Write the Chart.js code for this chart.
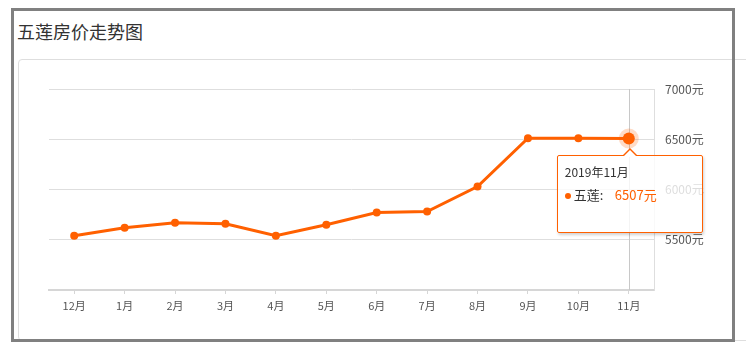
<!DOCTYPE html>
<html>
<head>
<meta charset="utf-8">
<script src="https://cdn.jsdelivr.net/npm/chart.js@4/dist/chart.umd.min.js"></script>
<style>
  html, body { margin: 0; padding: 0; background: #fff; }
  body { width: 746px; height: 354px; position: relative; overflow: hidden;
         font-family: "Microsoft YaHei", "Noto Sans CJK SC", sans-serif; }
  #frame { position: absolute; left: 11px; top: 8px; width: 724px; height: 334px;
           box-sizing: border-box; border: 3px solid #808080; z-index: 5; }
  #title { position: absolute; left: 17px; top: 18px; font-size: 18px; color: #333; line-height: 26px; }
  #card { position: absolute; left: 18px; top: 59px; width: 800px; height: 282px;
          box-sizing: border-box; border: 1px solid #dedede; border-radius: 4px; }
  #wrap { position: absolute; left: 20px; top: 60px; width: 700px; height: 270px; }
  #tip { position: absolute; width: 146px; height: 78px; box-sizing: border-box;
         background: rgba(255,255,255,0.8); border: 1px solid #ff6000; border-radius: 2px;
         box-shadow: 1px 2px 3px rgba(0,0,0,0.18); display: none; z-index: 3; }
  #tip .caret1, #tip .caret2 { position: absolute; width: 0; height: 0; left: 64px;
         border-left: 8px solid transparent; border-right: 8px solid transparent; }
  #tip .caret1 { top: -8px; border-bottom: 8px solid #ff6000; }
  #tip .caret2 { top: -6px; left: 65px; border-left-width: 7px; border-right-width: 7px;
                 border-bottom: 7px solid #fff; }
  #tip .t { position: absolute; left: 7px; top: 7px; font-size: 12px; line-height: 18px; color: #333; white-space: nowrap; }
  #tip .dot { position: absolute; left: 7px; top: 37px; width: 6px; height: 6px; border-radius: 3px; background: #ff6000; }
  #tip .name { position: absolute; left: 16px; top: 30px; font-size: 13px; line-height: 18px; color: #333; white-space: nowrap; }
  #tip .val { position: absolute; left: 57px; top: 30px; font-size: 13px; line-height: 18px; color: #ff6000; white-space: nowrap; }
</style>
</head>
<body>
<div id="title">五莲房价走势图</div>
<div id="card"></div>
<div id="wrap"><canvas id="priceChart" width="700" height="270"></canvas></div>
<div id="tip"><div class="caret1"></div><div class="caret2"></div>
  <div class="t"></div><div class="dot"></div><div class="name"></div><div class="val"></div></div>
<div id="frame"></div>
<script>
// data
const months = ['12月', '1月', '2月', '3月', '4月', '5月', '6月', '7月', '8月', '9月', '10月', '11月'];
const periods = ['2018年12月', '2019年1月', '2019年2月', '2019年3月', '2019年4月', '2019年5月',
                 '2019年6月', '2019年7月', '2019年8月', '2019年9月', '2019年10月', '2019年11月'];
const prices = [5540, 5620, 5670, 5660, 5540, 5650, 5770, 5780, 6030, 6510, 6510, 6507];
const yTicks = [5000, 5500, 6000, 6500, 7000];
const seriesName = '五莲';
const activeIndex = 11;

const orange = '#ff6000';
const wrap = document.getElementById('wrap');

// vertical line at the active point
const crosshair = {
    id: 'crosshair',
    beforeDatasetsDraw(chart) {
        const act = chart.getActiveElements();
        if (!act.length) return;
        const x = act[0].element.x;
        const a = chart.chartArea;
        const ctx = chart.ctx;
        ctx.save();
        ctx.strokeStyle = '#c8c8c8';
        ctx.lineWidth = 1;
        ctx.beginPath();
        ctx.moveTo(Math.round(x) + 0.5, a.top);
        ctx.lineTo(Math.round(x) + 0.5, a.bottom);
        ctx.stroke();
        ctx.restore();
    }
};

function htmlTip(context) {
    const tip = context.tooltip;
    const el = document.getElementById('tip');
    if (tip.opacity === 0 || !tip.dataPoints || !tip.dataPoints.length) { el.style.display = 'none'; return; }
    const dp = tip.dataPoints[0];
    el.querySelector('.t').textContent = periods[dp.dataIndex];
    el.querySelector('.name').textContent = dp.dataset.label + ':';
    el.querySelector('.val').textContent = dp.raw + '元';
    el.style.display = 'block';
    el.style.left = (wrap.offsetLeft + tip.caretX - 72) + 'px';
    el.style.top = (wrap.offsetTop + tip.caretY + 16) + 'px';
}

const chart = new Chart(document.getElementById('priceChart'), {
    type: 'line',
    data: {
        labels: months,
        datasets: [{
            label: seriesName,
            data: prices,
            borderColor: orange,
            backgroundColor: orange,
            borderWidth: 3,
            pointRadius: 4,
            pointBorderWidth: 0,
            pointBackgroundColor: orange,
            pointHoverRadius: 6,
            pointHoverBorderWidth: 8,
            pointHoverBorderColor: 'rgba(255,96,0,0.22)',
            pointHoverBackgroundColor: orange,
            tension: 0
        }]
    },
    plugins: [crosshair],
    options: {
        responsive: false,
        animation: false,
        devicePixelRatio: 1,
        events: [],
        layout: { padding: { left: 29, top: 29, right: 0, bottom: 0 } },
        plugins: {
            legend: { display: false },
            title: { display: false },
            tooltip: { enabled: false, external: htmlTip, mode: 'index', intersect: false }
        },
        scales: {
            x: {
                offset: true,
                grid: { drawOnChartArea: false, offset: false, tickLength: 4, color: '#d6d6d6' },
                border: { color: '#d6d6d6', width: 2 },
                ticks: { color: '#555', padding: 5, maxRotation: 0,
                         font: { size: 11, family: '"Microsoft YaHei", "Noto Sans CJK SC", sans-serif' } },
                afterFit(scale) { scale.height = 40; }
            },
            y: {
                position: 'right',
                min: yTicks[0],
                max: yTicks[yTicks.length - 1],
                afterBuildTicks(scale) { scale.ticks = yTicks.map(v => ({ value: v })); },
                grid: { color: '#dedede', drawTicks: false },
                border: { color: '#dedede', width: 1 },
                ticks: {
                    color: '#555', padding: 11, crossAlign: 'near',
                    font: { size: 12, family: '"Microsoft YaHei", "Noto Sans CJK SC", sans-serif' },
                    callback: v => (v === yTicks[0] ? '' : v + '元')
                },
                afterFit(scale) { scale.width = 66; }
            }
        }
    }
});

const meta = chart.getDatasetMeta(0);
const pt = meta.data[activeIndex];
chart.setActiveElements([{ datasetIndex: 0, index: activeIndex }]);
chart.tooltip.setActiveElements([{ datasetIndex: 0, index: activeIndex }], { x: pt.x, y: pt.y });
chart.update('none');
</script>
</body>
</html>
